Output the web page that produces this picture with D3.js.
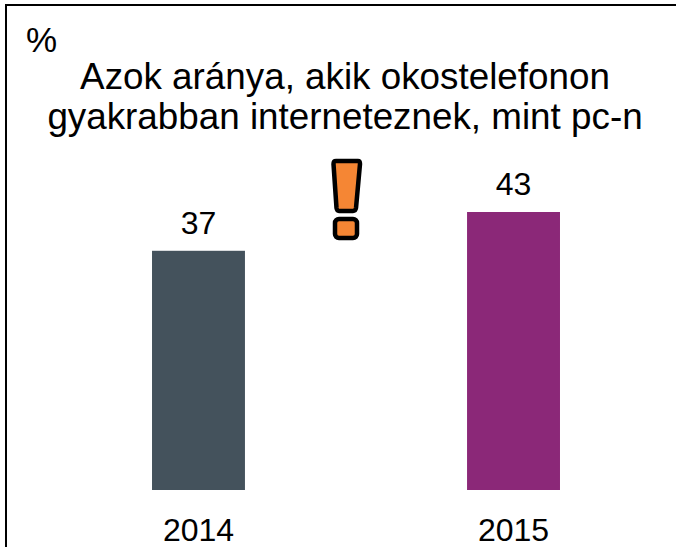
<!DOCTYPE html>
<html><head><meta charset="utf-8">
<script src="https://cdn.jsdelivr.net/npm/d3@7/dist/d3.min.js"></script>
<style>html,body{margin:0;padding:0;background:#fff}svg{display:block}text{font-family:"Liberation Sans",Arial,sans-serif;fill:#000}</style>
</head><body><svg id="c" width="676" height="547"></svg>
<script>
const categories = ["2014","2015"];
const values = [37,43];
const barColors = ["#44525c","#8b2878"];
const titleLines = ["Azok aránya, akik okostelefonon","gyakrabban interneteznek, mint pc-n"];
const unitLabel = "%";

const svg = d3.select("#c");
svg.append("path").attr("d","M6,547V5H676").attr("fill","none").attr("stroke","#000").attr("stroke-width",2);
svg.append("text").attr("x",26).attr("y",52).attr("font-size",35).text(unitLabel);
svg.selectAll("text.t").data(titleLines).join("text").attr("class","t")
  .attr("x",345).attr("y",(d,i)=>89+i*40).attr("text-anchor","middle").attr("font-size",36.8).text(d=>d);

const x = d3.scaleBand().domain(categories).range([41,671]).paddingInner(0.705).paddingOuter(0.3524);
const y = d3.scaleLinear().domain([0,43]).range([490,212]);
svg.selectAll("rect.b").data(values).join("rect").attr("class","b")
  .attr("x",(d,i)=>x(categories[i])).attr("width",x.bandwidth())
  .attr("y",d=>y(d)).attr("height",d=>y(0)-y(d)).attr("fill",(d,i)=>barColors[i]);
svg.selectAll("text.v").data(values).join("text").attr("class","v")
  .attr("x",(d,i)=>x(categories[i])+x.bandwidth()/2).attr("y",d=>y(d)-17)
  .attr("text-anchor","middle").attr("font-size",32).text(d=>d);
svg.selectAll("text.c").data(categories).join("text").attr("class","c")
  .attr("x",d=>x(d)+x.bandwidth()/2).attr("y",541)
  .attr("text-anchor","middle").attr("font-size",32).text(d=>d);

const mark = svg.append("g").attr("fill","#f58634").attr("stroke","#000").attr("stroke-width",4.5).attr("stroke-linejoin","round");
mark.append("path").attr("d","M336,161H358Q360,161 360,164L356,208Q355.500,211 353,211H339Q337,211 336.500,208L333.500,164Q333.500,161 336,161Z");
mark.append("rect").attr("x",335).attr("y",219).attr("width",22).attr("height",19).attr("rx",4);
</script></body></html>
